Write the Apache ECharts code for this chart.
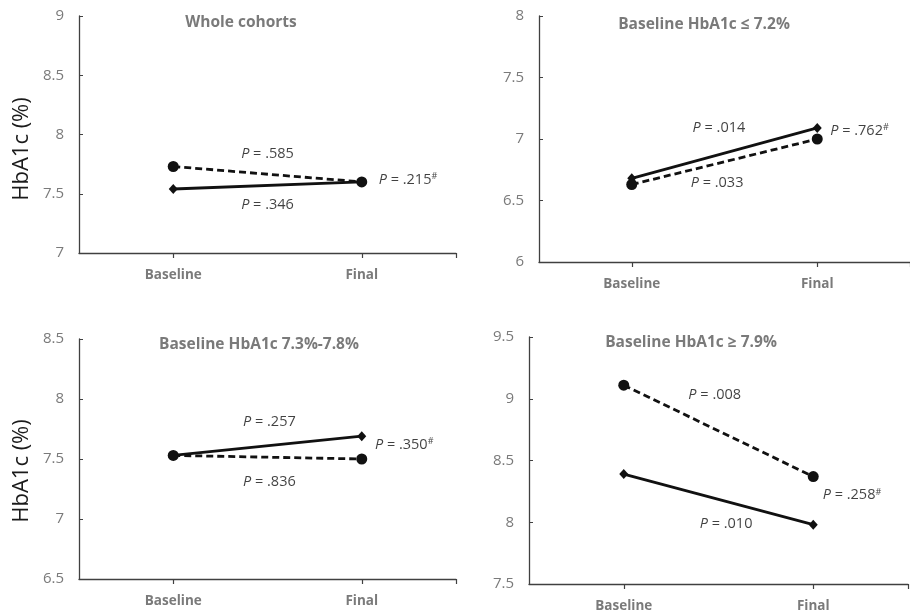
<!DOCTYPE html>
<html>
<head>
<meta charset="utf-8">
<script src="https://cdn.jsdelivr.net/npm/echarts@6/dist/echarts.min.js"></script>
<style>
html,body{margin:0;padding:0;background:#fff;}
#main{width:910px;height:614px;}
</style>
</head>
<body>
<div id="main"></div>
<script>
// ---------- data ----------
const categories = ['Baseline', 'Final'];
const panelTitles = ['Whole cohorts', 'Baseline HbA1c \u2264 7.2%', 'Baseline HbA1c 7.3%-7.8%', 'Baseline HbA1c \u2265 7.9%'];
const yMins = [7, 6, 6.5, 7.5];
const yMaxs = [9, 8, 8.5, 9.5];
const yTickStep = 0.5;
const solidValues = [
  [7.54, 7.60],
  [6.68, 7.09],
  [7.53, 7.69],
  [8.39, 7.98]
];
const dashedValues = [
  [7.73, 7.60],
  [6.63, 7.00],
  [7.53, 7.50],
  [9.11, 8.37]
];
// P-value annotations: panel, text, superscript flag, x (category units), y (HbA1c units)
const annotPanel = [0, 0, 0, 1, 1, 1, 2, 2, 2, 3, 3, 3];
const annotText = ['.585', '.346', '.215', '.014', '.033', '.762', '.257', '.836', '.350', '.008', '.010', '.258'];
const annotHash = [false, false, true, false, false, true, false, false, true, false, false, true];
const annotX = [1.5, 1.5, 2.09, 1.47, 1.46, 2.07, 1.51, 1.51, 2.07, 1.48, 1.54, 2.05];
const annotY = [7.84, 7.41, 7.62, 7.09, 6.64, 7.07, 7.81, 7.31, 7.62, 9.03, 7.99, 8.22];
const yAxisTitle = 'HbA1c (%)';

// ---------- layout ----------
const grids = [
  {left: 79, top: 16, width: 377, height: 237},
  {left: 539, top: 16, width: 377, height: 246},
  {left: 79, top: 339, width: 377, height: 240},
  {left: 529, top: 337, width: 379, height: 247}
];
const titlePos = [[241, 15], [704, 17], [259, 337], [691, 335]];
const FONT = '"Open Sans", "Liberation Sans", sans-serif';
const GREY = '#7a7a7a';
const AXIS = '#404040';
const INK = '#111';

const chart = echarts.init(document.getElementById('main'), null, {renderer: 'canvas'});

const xAxes = [], yAxes = [], series = [], titles = [];
for (let p = 0; p < 4; p++) {
  titles.push({
    text: panelTitles[p], left: titlePos[p][0], top: titlePos[p][1], textAlign: 'center', padding: 0,
    textStyle: {fontFamily: FONT, fontSize: 15.5, fontWeight: 'bold', color: GREY}
  });
  xAxes.push({
    gridIndex: p, type: 'value', min: 0.5, max: 2.5,
    axisLine: {show: true, lineStyle: {color: AXIS, width: 1.3}},
    axisTick: {show: true, customValues: [1, 2, 2.5], length: 5, lineStyle: {color: AXIS, width: 1.2}},
    axisLabel: {
      customValues: [1, 2], margin: 15,
      formatter: v => categories[Math.round(v) - 1] || '',
      fontFamily: FONT, fontSize: 13.5, fontWeight: 'bold', color: GREY
    },
    splitLine: {show: false}
  });
  yAxes.push({
    gridIndex: p, type: 'value', min: yMins[p], max: yMaxs[p], interval: yTickStep,
    axisLine: {show: true, lineStyle: {color: AXIS, width: 1.3}},
    axisTick: {show: true, inside: true, length: 4, lineStyle: {color: AXIS, width: 1}},
    axisLabel: {margin: 15, fontFamily: FONT, fontSize: 15, color: GREY},
    splitLine: {show: false}
  });
  series.push({
    type: 'line', xAxisIndex: p, yAxisIndex: p, name: 'solid',
    data: solidValues[p].map((v, i) => [i + 1, v]),
    symbol: 'diamond', symbolSize: [9, 10], showSymbol: true,
    lineStyle: {color: INK, width: 2.8, type: 'solid'},
    itemStyle: {color: INK}, z: 3, silent: true
  });
  series.push({
    type: 'line', xAxisIndex: p, yAxisIndex: p, name: 'dashed',
    data: dashedValues[p].map((v, i) => [i + 1, v]),
    symbol: 'circle', symbolSize: 11, showSymbol: true,
    lineStyle: {color: INK, width: 2.8, type: [7, 4]},
    itemStyle: {color: INK}, z: 4, silent: true
  });
  const pts = [];
  for (let k = 0; k < annotPanel.length; k++) {
    if (annotPanel[k] !== p) continue;
    pts.push({
      value: [annotX[k], annotY[k]],
      label: {
        position: annotHash[k] ? 'right' : 'inside', distance: 0,
        formatter: '{i|P} = ' + annotText[k] + (annotHash[k] ? '{s|#}' : '')
      }
    });
  }
  series.push({
    type: 'scatter', xAxisIndex: p, yAxisIndex: p, symbolSize: 0, silent: true, z: 5,
    data: pts,
    label: {
      show: true, color: INK, fontFamily: FONT, fontSize: 14.5,
      rich: {
        i: {fontStyle: 'italic', fontFamily: FONT, fontSize: 14.5, color: INK},
        s: {fontSize: 9, fontFamily: FONT, color: INK, verticalAlign: 'top', padding: [0, 0, 6, 0]}
      }
    }
  });
}

chart.setOption({
  animation: false,
  backgroundColor: '#ffffff',
  title: titles,
  grid: grids,
  xAxis: xAxes,
  yAxis: yAxes,
  series: series,
  graphic: [
    {type: 'text', x: 22, y: 149, rotation: Math.PI / 2, style: {text: yAxisTitle, fontFamily: FONT, fontSize: 22, fill: '#1a1a1a', align: 'center', verticalAlign: 'middle'}},
    {type: 'text', x: 22, y: 471, rotation: Math.PI / 2, style: {text: yAxisTitle, fontFamily: FONT, fontSize: 22, fill: '#1a1a1a', align: 'center', verticalAlign: 'middle'}}
  ]
});
</script>
</body>
</html>
